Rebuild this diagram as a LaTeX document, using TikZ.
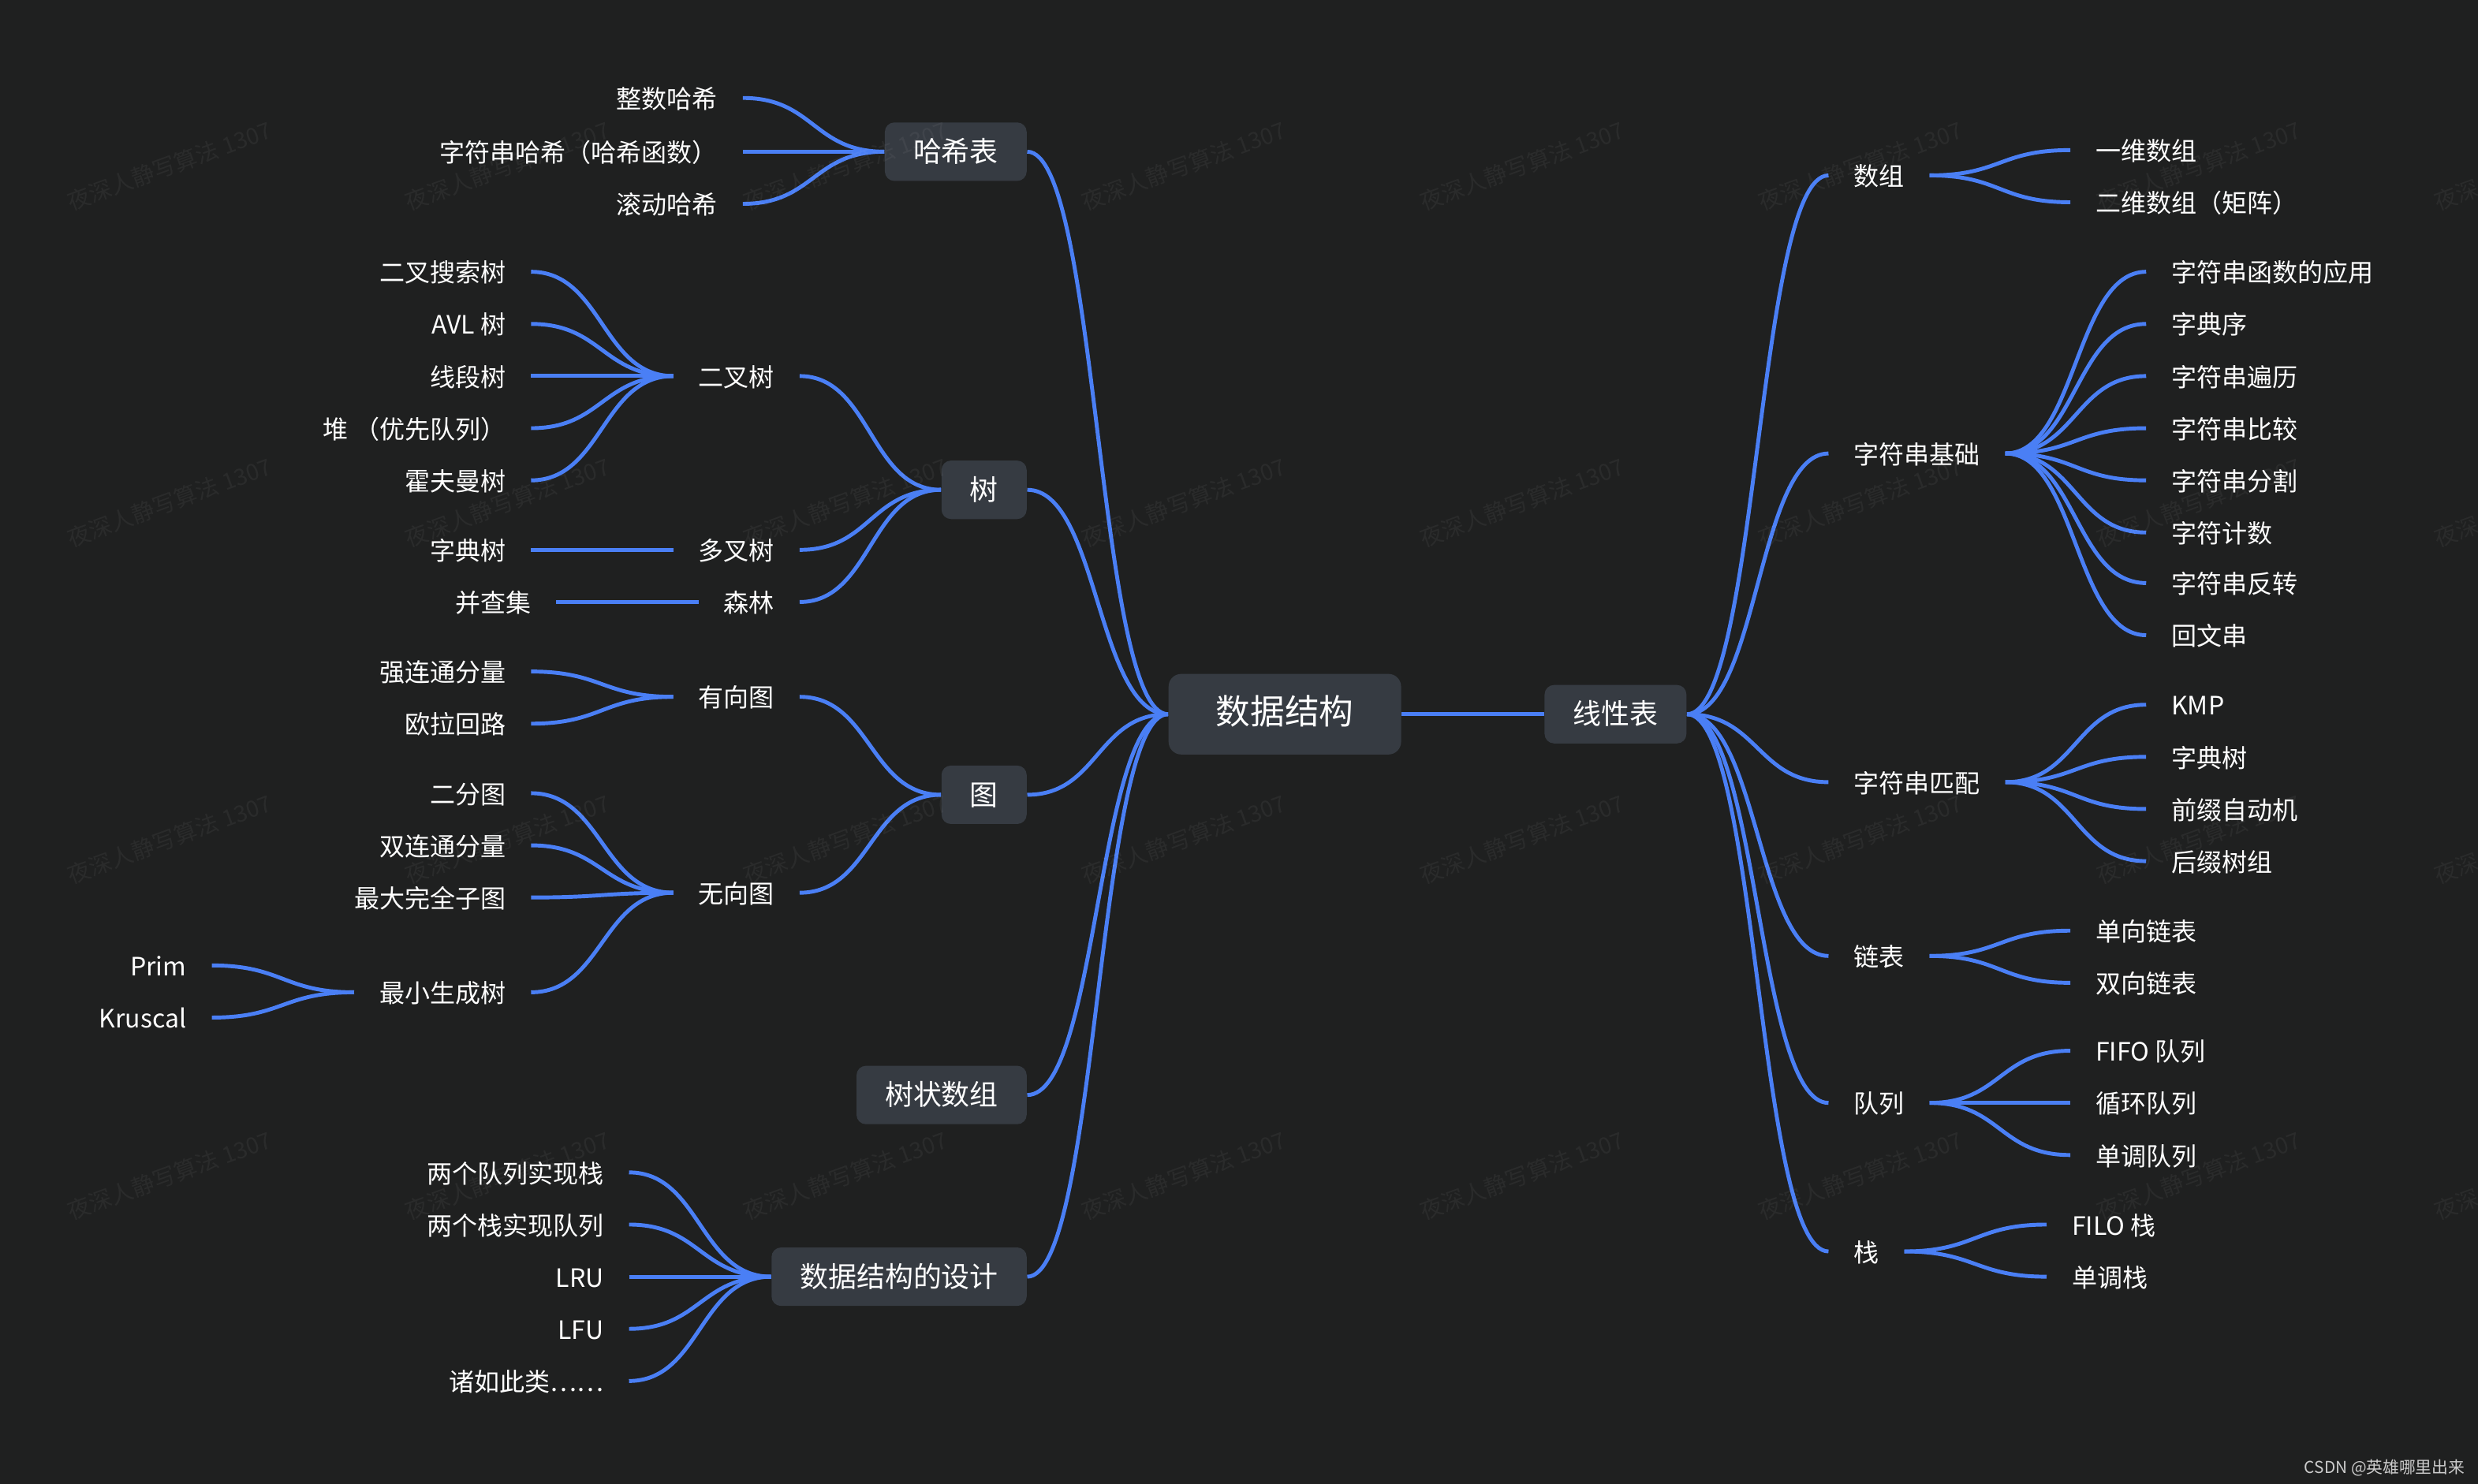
\documentclass[tikz,border=0pt]{standalone}
\usepackage{fontspec}
\setmainfont{Noto Sans CJK SC}
\usepackage{xcolor}
\definecolor{bgdark}{HTML}{1F2020}
\definecolor{boxgray}{HTML}{363B42}
\definecolor{linkblue}{HTML}{4A7FF5}

\begin{document}
\begin{tikzpicture}[x=0.02cm, y=-0.02cm,
    root/.style={fill=boxgray, rounded corners=0.16cm, text=white, font=\fontsize{12.4}{14}\selectfont, minimum height=1.02cm, inner xsep=0.6cm, inner ysep=0pt, text height=0.8em, text depth=0.05em},
    branch/.style={fill=boxgray, rounded corners=0.12cm, text=white, font=\fontsize{10.2}{12}\selectfont, minimum height=0.74cm, inner xsep=0.36cm, inner ysep=0pt, text height=0.8em, text depth=0.05em},
    item/.style={text=white, font=\fontsize{9.1}{11}\selectfont, inner sep=0pt, outer xsep=0.32cm, text height=0.8em, text depth=0.05em},
    wire/.style={draw=linkblue, line width=1.4pt},
    link/.style={to path={.. controls +(#1,0) and +(-#1,0) .. (\tikztotarget)}},
    link/.default=45,
    watermark/.style={text=white, text opacity=0.05, font=\fontsize{8.2}{10}\selectfont, rotate=20}
]
\useasboundingbox (0,0) rectangle (1568,939);
\fill[bgdark] (0,0) rectangle (1568,939);

% centre
\node[root] (ds) at (813,452) {数据结构};
\node[branch, anchor=west] (linear) at (977,452) {线性表};

% left branches
\node[branch, anchor=east] (hash) at (650,96) {哈希表};
\node[branch, anchor=east] (tree) at (650,310) {树};
\node[branch, anchor=east] (graph) at (650,503) {图};
\node[branch, anchor=east] (bit) at (650,693) {树状数组};
\node[branch, anchor=east] (design) at (650,808) {数据结构的设计};

% hash table
\node[item, anchor=east] (h1) at (470,62) {整数哈希};
\node[item, anchor=east] (h2) at (470,96) {字符串哈希（哈希函数）};
\node[item, anchor=east] (h3) at (470,129) {滚动哈希};

% trees
\node[item, anchor=east] (bt) at (506,238) {二叉树};
\node[item, anchor=east] (mt) at (506,348) {多叉树};
\node[item, anchor=east] (forest) at (506,381) {森林};
\node[item, anchor=east] (bt1) at (336,172) {二叉搜索树};
\node[item, anchor=east] (bt2) at (336,205) {AVL 树};
\node[item, anchor=east] (bt3) at (336,238) {线段树};
\node[item, anchor=east] (bt4) at (336,271) {堆 （优先队列）};
\node[item, anchor=east] (bt5) at (336,304) {霍夫曼树};
\node[item, anchor=east] (mt1) at (336,348) {字典树};
\node[item, anchor=east] (fo1) at (352,381) {并查集};

% graphs
\node[item, anchor=east] (dg) at (506,441) {有向图};
\node[item, anchor=east] (ug) at (506,565) {无向图};
\node[item, anchor=east] (dg1) at (336,425) {强连通分量};
\node[item, anchor=east] (dg2) at (336,458) {欧拉回路};
\node[item, anchor=east] (ug1) at (336,502) {二分图};
\node[item, anchor=east] (ug2) at (336,535) {双连通分量};
\node[item, anchor=east] (ug3) at (336,568) {最大完全子图};
\node[item, anchor=east] (mst) at (336,628) {最小生成树};
\node[item, anchor=east] (prim) at (134,611) {Prim};
\node[item, anchor=east] (kruskal) at (134,644) {Kruscal};

% design
\node[item, anchor=east] (d1) at (398,742) {两个队列实现栈};
\node[item, anchor=east] (d2) at (398,775) {两个栈实现队列};
\node[item, anchor=east] (d3) at (398,808) {LRU};
\node[item, anchor=east] (d4) at (398,841) {LFU};
\node[item, anchor=east] (d5) at (398,874) {诸如此类……};

% right side: linear structures
\node[item, anchor=west] (arr) at (1157,111) {数组};
\node[item, anchor=west] (strb) at (1157,287) {字符串基础};
\node[item, anchor=west] (strm) at (1157,495) {字符串匹配};
\node[item, anchor=west] (list) at (1157,605) {链表};
\node[item, anchor=west] (queue) at (1157,698) {队列};
\node[item, anchor=west] (stack) at (1157,792) {栈};

\node[item, anchor=west] (a1) at (1310,95) {一维数组};
\node[item, anchor=west] (a2) at (1310,128) {二维数组（矩阵）};

\node[item, anchor=west] (s1) at (1358,172) {字符串函数的应用};
\node[item, anchor=west] (s2) at (1358,205) {字典序};
\node[item, anchor=west] (s3) at (1358,238) {字符串遍历};
\node[item, anchor=west] (s4) at (1358,271) {字符串比较};
\node[item, anchor=west] (s5) at (1358,304) {字符串分割};
\node[item, anchor=west] (s6) at (1358,337) {字符计数};
\node[item, anchor=west] (s7) at (1358,369) {字符串反转};
\node[item, anchor=west] (s8) at (1358,402) {回文串};

\node[item, anchor=west] (m1) at (1358,446) {KMP};
\node[item, anchor=west] (m2) at (1358,479) {字典树};
\node[item, anchor=west] (m3) at (1358,512) {前缀自动机};
\node[item, anchor=west] (m4) at (1358,545) {后缀树组};

\node[item, anchor=west] (l1) at (1310,589) {单向链表};
\node[item, anchor=west] (l2) at (1310,622) {双向链表};

\node[item, anchor=west] (q1) at (1310,665) {FIFO 队列};
\node[item, anchor=west] (q2) at (1310,698) {循环队列};
\node[item, anchor=west] (q3) at (1310,731) {单调队列};

\node[item, anchor=west] (k1) at (1295,775) {FILO 栈};
\node[item, anchor=west] (k2) at (1295,808) {单调栈};

% connectors, always drawn left to right
\draw[wire] (ds.east) to[link] (linear.west);
\draw[wire] (hash.east) to[link] (ds.west);
\draw[wire] (tree.east) to[link] (ds.west);
\draw[wire] (graph.east) to[link] (ds.west);
\draw[wire] (bit.east) to[link] (ds.west);
\draw[wire] (design.east) to[link] (ds.west);

\draw[wire] (h1.east) to[link] (hash.west);
\draw[wire] (h2.east) to[link] (hash.west);
\draw[wire] (h3.east) to[link] (hash.west);

\draw[wire] (bt.east) to[link] (tree.west);
\draw[wire] (mt.east) to[link] (tree.west);
\draw[wire] (forest.east) to[link] (tree.west);
\draw[wire] (bt1.east) to[link] (bt.west);
\draw[wire] (bt2.east) to[link] (bt.west);
\draw[wire] (bt3.east) to[link] (bt.west);
\draw[wire] (bt4.east) to[link] (bt.west);
\draw[wire] (bt5.east) to[link] (bt.west);
\draw[wire] (mt1.east) to[link] (mt.west);
\draw[wire] (fo1.east) to[link] (forest.west);

\draw[wire] (dg.east) to[link] (graph.west);
\draw[wire] (ug.east) to[link] (graph.west);
\draw[wire] (dg1.east) to[link] (dg.west);
\draw[wire] (dg2.east) to[link] (dg.west);
\draw[wire] (ug1.east) to[link] (ug.west);
\draw[wire] (ug2.east) to[link] (ug.west);
\draw[wire] (ug3.east) to[link] (ug.west);
\draw[wire] (mst.east) to[link] (ug.west);
\draw[wire] (prim.east) to[link] (mst.west);
\draw[wire] (kruskal.east) to[link] (mst.west);

\draw[wire] (d1.east) to[link] (design.west);
\draw[wire] (d2.east) to[link] (design.west);
\draw[wire] (d3.east) to[link] (design.west);
\draw[wire] (d4.east) to[link] (design.west);
\draw[wire] (d5.east) to[link] (design.west);

\draw[wire] (linear.east) to[link] (arr.west);
\draw[wire] (linear.east) to[link] (strb.west);
\draw[wire] (linear.east) to[link] (strm.west);
\draw[wire] (linear.east) to[link] (list.west);
\draw[wire] (linear.east) to[link] (queue.west);
\draw[wire] (linear.east) to[link] (stack.west);

\draw[wire] (arr.east) to[link] (a1.west);
\draw[wire] (arr.east) to[link] (a2.west);
\draw[wire] (strb.east) to[link] (s1.west);
\draw[wire] (strb.east) to[link] (s2.west);
\draw[wire] (strb.east) to[link] (s3.west);
\draw[wire] (strb.east) to[link] (s4.west);
\draw[wire] (strb.east) to[link] (s5.west);
\draw[wire] (strb.east) to[link] (s6.west);
\draw[wire] (strb.east) to[link] (s7.west);
\draw[wire] (strb.east) to[link] (s8.west);
\draw[wire] (strm.east) to[link] (m1.west);
\draw[wire] (strm.east) to[link] (m2.west);
\draw[wire] (strm.east) to[link] (m3.west);
\draw[wire] (strm.east) to[link] (m4.west);
\draw[wire] (list.east) to[link] (l1.west);
\draw[wire] (list.east) to[link] (l2.west);
\draw[wire] (queue.east) to[link] (q1.west);
\draw[wire] (queue.east) to[link] (q2.west);
\draw[wire] (queue.east) to[link] (q3.west);
\draw[wire] (stack.east) to[link] (k1.west);
\draw[wire] (stack.east) to[link] (k2.west);

% watermark and credit
\begin{scope}
\clip (0,0) rectangle (1568,939);
\foreach \wx in {107,321,...,1605}
  \foreach \wy in {105,318,...,745}
    \node[watermark] at (\wx,\wy) {夜深人静写算法 1307};
\end{scope}
\node[text=black!20, font=\fontsize{5.9}{7}\selectfont, inner sep=0pt, anchor=east] (credit) at (1560,929) {CSDN @英雄哪里出来};
\end{tikzpicture}
\end{document}
